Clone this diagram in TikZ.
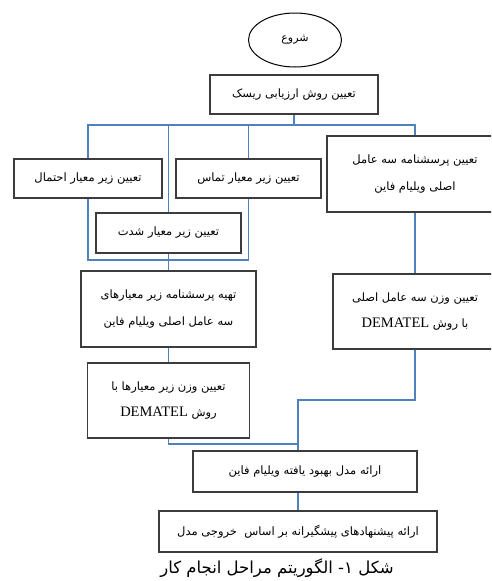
\documentclass[tikz,border=0pt]{standalone}
\usepackage{fontspec}
\TeXXeTstate=1
\newfontfamily\farsi[Script=Arabic]{DejaVu Sans}
\newfontfamily\latinserif{Liberation Serif}
\usetikzlibrary{shapes.geometric}
\newcommand{\fa}[1]{{\farsi\beginR #1\endR}}
\newcommand{\enl}[1]{{\latinserif\fontsize{14.5}{26.5}\selectfont\beginL #1\endL}}
\definecolor{connblue}{RGB}{79,129,189}
\definecolor{boxedge}{RGB}{60,60,60}
\tikzset{
  stepbox/.style={draw=boxedge, line width=1.2pt, rectangle, inner sep=0pt, align=center,
    font=\fontsize{11.5}{26.5}\selectfont},
  conn/.style={draw=connblue, line width=1.4pt},
}
\begin{document}
\begin{tikzpicture}[x=1pt,y=-1pt]
\useasboundingbox (0,0) rectangle (491,581);
\clip (0,0) rectangle (491,581);
% nodes
\node[ellipse, draw=black, line width=1pt, minimum width=93pt, minimum height=54pt, inner sep=0pt,
  font=\fontsize{11}{12}\selectfont] (start) at (295,40) {\fa{شروع}};
\node[stepbox, minimum width=168pt, minimum height=39pt] (top) at (294,94.5) {\fa{تعیین روش ارزیابی ریسک}};
\node[stepbox, minimum width=148pt, minimum height=39pt] (A) at (88,178.5) {\fa{تعیین زیر معیار احتمال}};
\node[stepbox, minimum width=145pt, minimum height=39pt] (B) at (248.5,178.5) {\fa{تعیین زیر معیار تماس}};
\node[stepbox, minimum width=176pt, minimum height=76pt] (C) at (415,174) {\fa{تعیین پرسشنامه سه عامل}\\\fa{اصلی ویلیام فاین}};
\node[stepbox, minimum width=145pt, minimum height=40pt] (D) at (168.5,233) {\fa{تعیین زیر معیار شدت}};
\node[stepbox, minimum width=175pt, minimum height=76pt] (E) at (168.5,309) {\fa{تهیه پرسشنامه زیر معیارهای}\\\fa{سه عامل اصلی ویلیام فاین}};
\node[stepbox, minimum width=164pt, minimum height=75pt] (G) at (415,311.5) {\fa{تعیین وزن سه عامل اصلی}\\\fa{با روش \enl{DEMATEL}}};
\node[stepbox, minimum width=162pt, minimum height=75pt] (F) at (168.5,400.5) {\fa{تعیین وزن زیر معیارها با}\\\fa{روش \enl{DEMATEL}}};
\node[stepbox, minimum width=224pt, minimum height=41pt] (H) at (305,471.5) {\fa{ارائه مدل بهبود یافته ویلیام فاین}};
\node[stepbox, minimum width=278pt, minimum height=41pt] (I) at (298,531.5) {\fa{ارائه پیشنهادهای پیشگیرانه بر اساس\ \ خروجی مدل}};
\node[font=\fontsize{16.5}{18}\selectfont, inner sep=0pt] (cap) at (277,568) {\fa{شکل ۱- الگوریتم مراحل انجام کار}};
% junctions
\coordinate (bus) at (294,125);
\coordinate (merge) at (168.5,260);
\coordinate (gbend) at (298,400);
\coordinate (fjoin) at (298,444);
% connectors
\draw[conn] (top.south) -- (top.south |- bus);
\draw[conn] (A.north) -- (A.north |- bus) -- (C.north |- bus) -- (C.north);
\draw[conn] (D.north) -- (D.north |- bus);
\draw[conn] (B.north) -- (B.north |- bus);
\draw[conn] (A.south) |- (merge) -| (B.south);
\draw[conn] (D.south) -- (E.north);
\draw[conn] (E.south) -- (F.north);
\draw[conn] (C.south) -- (G.north);
\draw[conn] (G.south) |- (gbend) -- (gbend |- H.north);
\draw[conn] (F.south) |- (fjoin);
\draw[conn] (I.north) -- (I.north |- H.south);
\end{tikzpicture}
\end{document}
